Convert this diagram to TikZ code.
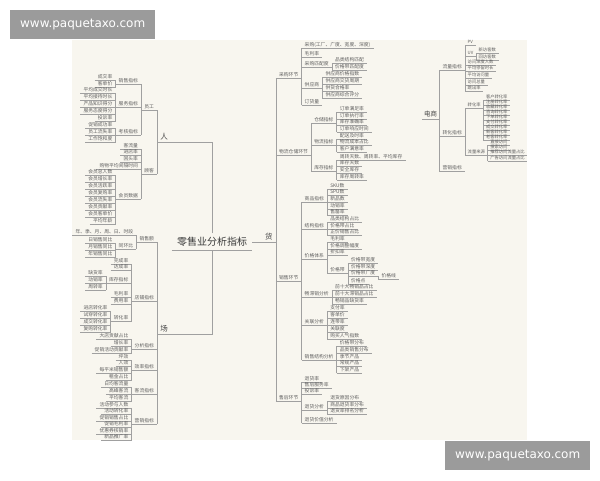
\documentclass[tikz,border=0pt]{standalone}
\usepackage{fontspec}
\setmainfont{Noto Sans CJK SC}
\newfontfamily\wmfont{DejaVu Sans}
\definecolor{bgc}{RGB}{248,246,239}
\definecolor{lnc}{RGB}{160,160,160}
\definecolor{txc}{RGB}{95,95,95}
\definecolor{wmc}{RGB}{155,155,155}
\tikzset{
 ln/.style={draw=lnc,line width=0.5pt},
 ul/.style={append after command={(\tikzlastnode.south west) edge[ln] (\tikzlastnode.south east)}},
 lf/.style={ul,text=txc,font=\fontsize{4.8}{5}\selectfont,inner xsep=3pt,inner ysep=0.8pt,text height=4pt,text depth=0.8pt},
 sm/.style={ul,text=txc,font=\fontsize{4.3}{4.5}\selectfont,inner xsep=2.5pt,inner ysep=0.5pt,text height=3.6pt,text depth=0.7pt},
 big/.style={ul,text=txc!70!black,font=\fontsize{7.5}{8}\selectfont,inner xsep=3pt,inner ysep=1pt,text height=6.5pt,text depth=1pt},
 dsn/.style={ul,text=txc!70!black,font=\fontsize{6.5}{7}\selectfont,inner xsep=2pt,inner ysep=1pt,text height=5.6pt,text depth=1pt},
 rootn/.style={ul,text=txc!60!black,font=\fontsize{10}{12}\selectfont,inner xsep=5pt,inner ysep=3.5pt,text height=8.5pt,text depth=1.5pt},
 wm/.style={fill=wmc,text=white,inner sep=0pt,minimum width=145pt,minimum height=29pt,anchor=north west,font=\wmfont\fontsize{12}{13}\selectfont}
}
\newcommand\LN[5][lf]{\node[#1,anchor=east] (#2) at (#3.south west |- 0,#4) {#5}; \draw[ln] (#3.south west) -- (#2.south east);}
\newcommand\RN[5][lf]{\node[#1,anchor=west] (#2) at (#3.south east |- 0,#4) {#5}; \draw[ln] (#3.south east) -- (#2.south west);}
\begin{document}
\begin{tikzpicture}[x=1pt,y=-1pt]
\useasboundingbox (0,0) rectangle (600,480);
\fill[white] (0,0) rectangle (600,480);
\fill[bgc] (72,40) rectangle (527,440);
% root
\node[rootn] (root) at (212,242) {零售业分析指标};
% ===== 人 =====
\node[big,anchor=south east] (ren) at (171,142) {人};
\LN{yg}{ren}{107}{员工}
\LN{gk}{ren}{171}{顾客}
\LN{yg1}{yg}{81}{销售指标}
\LN{yg2}{yg}{104}{服务指标}
\LN{yg3}{yg}{132}{考核指标}
\LN{a1}{yg1}{77}{成交率}
\LN{a2}{yg1}{84}{客单价}
\LN{b1}{yg2}{90}{平均成交时长}
\LN{b2}{yg2}{97}{平均接待时长}
\LN{b3}{yg2}{104}{产品知识得分}
\LN{b4}{yg2}{111}{服务态度得分}
\LN{b5}{yg2}{118}{投诉率}
\LN{c1}{yg3}{125}{促销成功率}
\LN{c2}{yg3}{132}{员工流失率}
\LN{c3}{yg3}{139}{工作饱和度}
\LN{d1}{gk}{146}{客流量}
\LN{d2}{gk}{152}{进店率}
\LN{d3}{gk}{159}{回头率}
\LN{d4}{gk}{166}{购物平均间隔时间}
\LN{gk5}{gk}{196}{会员数据}
\LN{e1}{gk5}{172}{会员总人数}
\LN{e2}{gk5}{179}{会员增长率}
\LN{e3}{gk5}{186}{会员活跃率}
\LN{e4}{gk5}{193}{会员复购率}
\LN{e5}{gk5}{200}{会员流失率}
\LN{e6}{gk5}{207}{会员贡献率}
\LN{e7}{gk5}{214}{会员客单价}
\LN{e8}{gk5}{221}{平均年龄}
% ===== 场 =====
\node[big,anchor=south east] (chang) at (171,334) {场};
\LN{f1}{chang}{239}{销售额}
\LN{f11}{f1}{232}{年、季、月、周、日、时段}
\LN{f12}{f1}{246}{同环比}
\LN{f121}{f12}{240}{日销售同比}
\LN{f122}{f12}{247}{月销售同比}
\LN{f123}{f12}{254}{年销售同比}
\LN{f2}{chang}{298}{店铺指标}
\LN{f21}{f2}{261}{完成率}
\LN{f22}{f2}{267}{达成率}
\LN{f23}{f2}{280}{库存指标}
\LN{f231}{f23}{273}{缺货率}
\LN{f232}{f23}{280}{动销率}
\LN{f233}{f23}{287}{周转率}
\LN{f24}{f2}{294}{毛利率}
\LN{f25}{f2}{301}{费用率}
\LN{f26}{f2}{318}{转化率}
\LN{f261}{f26}{308}{进店转化率}
\LN{f262}{f26}{315}{试穿转化率}
\LN{f263}{f26}{322}{成交转化率}
\LN{f264}{f26}{329}{复购转化率}
\LN{f3}{chang}{346}{分析指标}
\LN{f31}{f3}{336}{大店贡献占比}
\LN{f32}{f3}{343}{增长率}
\LN{f33}{f3}{350}{促销活动贡献率}
\LN{f4}{chang}{367}{效率指标}
\LN{f41}{f4}{357}{坪效}
\LN{f42}{f4}{363}{人效}
\LN{f43}{f4}{370}{每平米销售额}
\LN{f44}{f4}{377}{租金占比}
\LN{f5}{chang}{391}{客流指标}
\LN{f51}{f5}{384}{日均客流量}
\LN{f52}{f5}{391}{高峰客流}
\LN{f53}{f5}{398}{平均客流}
\LN{f6}{chang}{421}{营销指标}
\LN{f61}{f6}{405}{活动参与人数}
\LN{f62}{f6}{411}{活动转化率}
\LN{f63}{f6}{418}{促销销售占比}
\LN{f64}{f6}{424}{促销毛利率}
\LN{f65}{f6}{431}{优惠券核销率}
\LN{f66}{f6}{437}{新品推广率}
% ===== 货 =====
\node[big,anchor=south west] (huo) at (262,242) {货};
\RN{h1}{huo}{75}{采购环节}
\RN{h11}{h1}{45}{采购(工厂、广度、宽度、深度)}
\RN{h12}{h1}{54}{毛利率}
\RN{h13}{h1}{64}{采购匹配度}
\RN{h131}{h13}{60}{品类结构匹配}
\RN{h132}{h13}{67}{价格带匹配度}
\RN{h14}{h1}{85}{供应商}
\RN{h141}{h14}{74}{供应商价格指数}
\RN{h142}{h14}{81}{供应商交货周期}
\RN{h143}{h14}{88}{供货合格率}
\RN{h144}{h14}{95}{供应商综合评分}
\RN{h15}{h1}{102}{订货量}
\RN{h2}{huo}{152}{物流仓储环节}
\RN{h21}{h2}{120}{仓储指标}
\RN{h211}{h21}{109}{订单满足率}
\RN{h212}{h21}{116}{订单执行率}
\RN{h213}{h21}{122}{库存准确率}
\RN{h214}{h21}{129}{订单响应时间}
\RN{h22}{h2}{142}{物流指标}
\RN{h221}{h22}{136}{配送及时率}
\RN{h222}{h22}{142}{物流成本占比}
\RN{h223}{h22}{149}{客户满意率}
\RN{h23}{h2}{168}{库存指标}
\RN{h231}{h23}{157}{周转天数、周转率、平均库存}
\RN{h232}{h23}{163}{库存天数}
\RN{h233}{h23}{170}{安全库存}
\RN{h234}{h23}{177}{库存周转率}
\RN{h3}{huo}{278}{销售环节}
\RN{h31}{h3}{199}{商品指标}
\RN{h311}{h31}{186}{SKU数}
\RN{h312}{h31}{192}{SPU数}
\RN{h313}{h31}{199}{新品数}
\RN{h314}{h31}{206}{动销率}
\RN{h315}{h31}{212}{售罄率}
\RN{h32}{h3}{226}{结构指标}
\RN{h321}{h32}{219}{品类结构占比}
\RN{h322}{h32}{226}{价格带占比}
\RN{h323}{h32}{232}{正价销售占比}
\RN{h33}{h3}{256}{价格体系}
\RN{h331}{h33}{239}{毛利率}
\RN{h332}{h33}{246}{价格调整幅度}
\RN{h333}{h33}{252}{折扣率}
\RN{h334}{h33}{270}{价格带}
\RN{h3341}{h334}{260}{价格带宽度}
\RN{h3342}{h334}{267}{价格带深度}
\RN{h3343}{h334}{273}{价格带广度}
\RN{h3344}{h334}{281}{价格点}
\RN{h33431}{h3343}{276}{价格线}
\RN{h34}{h3}{294}{畅滞销分析}
\RN{h341}{h34}{287}{前十大畅销品占比}
\RN{h342}{h34}{294}{前十大滞销品占比}
\RN{h343}{h34}{301}{畅销品缺货率}
\RN{h35}{h3}{322}{关联分析}
\RN{h351}{h35}{308}{支付率}
\RN{h352}{h35}{315}{客单价}
\RN{h353}{h35}{322}{连带率}
\RN{h354}{h35}{329}{关联度}
\RN{h355}{h35}{336}{购买人气指数}
\RN{h36}{h3}{357}{销售结构分析}
\RN{h361}{h36}{343}{价格带分布}
\RN{h362}{h36}{350}{品类销售分布}
\RN{h363}{h36}{357}{季节产品}
\RN{h364}{h36}{363}{常规产品}
\RN{h365}{h36}{370}{下架产品}
\RN{h4}{huo}{398}{售后环节}
\RN{h41}{h4}{379}{退货率}
\RN{h42}{h4}{385}{售后服务率}
\RN{h43}{h4}{391}{投诉率}
\RN{h44}{h4}{407}{退货分析}
\RN{h441}{h44}{398}{退货原因分布}
\RN{h442}{h44}{405}{商品退货率分布}
\RN{h443}{h44}{411}{退货率排名分析}
\RN{h45}{h4}{420}{退货价值分析}
% ===== 电商 =====
\node[dsn,anchor=south west] (ds) at (422,119) {电商};
\RN{i1}{ds}{67}{流量指标}
\RN[sm]{i11}{i1}{42}{PV}
\RN[sm]{i12}{i1}{53}{UV}
\RN[sm]{i121}{i12}{50}{新访客数}
\RN[sm]{i122}{i12}{57}{回访客数}
\RN[sm]{i13}{i1}{62}{访问深度人数}
\RN[sm]{i14}{i1}{68}{平均停留时长}
\RN[sm]{i15}{i1}{75}{平均访问量}
\RN[sm]{i16}{i1}{82}{访问总量}
\RN[sm]{i17}{i1}{88}{跳出率}
\RN{i2}{ds}{133}{转化指标}
\RN[sm]{i21}{i2}{105}{转化率}
\RN[sm]{i211}{i21}{97}{客户转化率}
\RN[sm]{i212}{i21}{102}{注册转化率}
\RN[sm]{i213}{i21}{107}{收藏转化率}
\RN[sm]{i214}{i21}{112}{咨询转化率}
\RN[sm]{i215}{i21}{117}{下单转化率}
\RN[sm]{i216}{i21}{122}{支付转化率}
\RN[sm]{i217}{i21}{127}{成交转化率}
\RN[sm]{i218}{i21}{132}{新客转化率}
\RN[sm]{i219}{i21}{137}{老客转化率}
\RN[sm]{i22}{i2}{152}{流量来源}
\RN[sm]{i221}{i22}{142}{直接访问}
\RN[sm]{i222}{i22}{147}{搜索访问}
\RN[sm]{i223}{i22}{152}{推荐访问流量占比}
\RN[sm]{i224}{i22}{158}{广告访问流量占比}
\RN{i3}{ds}{168}{营销指标}
% root connectors
\draw[ln] (root.north) |- (ren.south east);
\draw[ln] (root.south) |- (chang.south east);
\draw[ln] (root.east) -- (huo.south west);
% watermarks
\node[wm] (wm1) at (10,10) {www.paquetaxo.com};
\node[wm] (wm2) at (445,441) {www.paquetaxo.com};
\end{tikzpicture}
\end{document}
